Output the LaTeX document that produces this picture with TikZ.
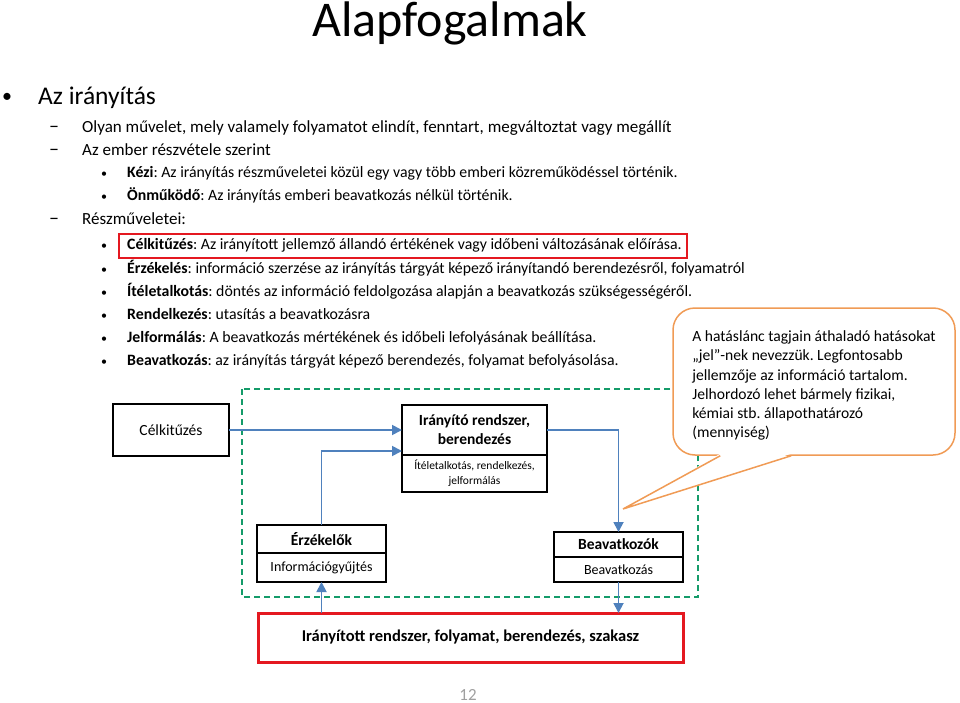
\documentclass[tikz,border=0pt]{standalone}
\usepackage{fontspec}
\setmainfont{Carlito}
\usetikzlibrary{shapes,arrows.meta,positioning}
\definecolor{flowblue}{RGB}{79,129,189}
\definecolor{dashgreen}{RGB}{20,155,105}
\definecolor{noteorange}{RGB}{240,155,85}
\definecolor{markred}{RGB}{228,24,32}
\tikzstyle{box} = [draw,line width=1.2pt,rectangle,inner sep=0,outer sep=0,align=center]
\tikzstyle{flow} = [-{Triangle[length=10pt,width=10pt]},line width=1.8pt,draw=flowblue]
\tikzstyle{lvlone} = [anchor=base west,inner sep=0,font=\fontsize{25.5}{30}\selectfont]
\tikzstyle{lvltwo} = [anchor=base west,inner sep=0,font=\fontsize{17}{20}\selectfont]
\tikzstyle{lvlthree} = [anchor=base west,inner sep=0,font=\fontsize{15.8}{18}\selectfont]
\tikzstyle{dot} = [anchor=base west,inner sep=0,font=\fontsize{12}{14}\selectfont]
\tikzstyle{dashmark} = [anchor=base west,inner sep=0,font=\fontsize{20}{22}\selectfont]
\tikzstyle{note} = [draw=noteorange,line width=1.5pt,fill=white,rectangle,rounded corners=22pt,minimum width=282pt,minimum height=147pt,align=left,font=\fontsize{15.6}{19.2}\selectfont]
\def \tb {2pt}

\begin{document}
\frenchspacing
\begin{tikzpicture}[x=1pt,y=-1pt]
      \useasboundingbox (0,0) rectangle (960,703);
      \node[anchor=base,inner sep=0,font=\fontsize{50}{60}\selectfont] (title) at (450,37) {Alapfogalmak};
      % bullet list
      \node[anchor=base west,inner sep=0,font=\fontsize{20}{24}\selectfont] (b1) at (2,103) {•};
      \node[lvlone] (l1) at (38,105) {Az irányítás};
      \node[dashmark] (d1) at (49,133) {–};
      \node[lvltwo] (l2a) at (82,133) {Olyan művelet, mely valamely folyamatot elindít, fenntart, megváltoztat vagy megállít};
      \node[dashmark] (d2) at (49,156) {–};
      \node[lvltwo] (l2b) at (82,156) {Az ember részvétele szerint};
      \node[dot] (b3a) at (101,178) {•};
      \node[lvlthree] (l3a) at (127,178) {\textbf{Kézi}: Az irányítás részműveletei közül egy vagy több emberi közreműködéssel történik.};
      \node[dot] (b3b) at (101,201) {•};
      \node[lvlthree] (l3b) at (127,201) {\textbf{Önműködő}: Az irányítás emberi beavatkozás nélkül történik.};
      \node[dashmark] (d3) at (49,225) {–};
      \node[lvltwo] (l2c) at (82,225) {Részműveletei:};
      \node[dot] (b3c) at (101,250) {•};
      \node[lvlthree] (l3c) at (127,250) {\textbf{Célkitűzés}: Az irányított jellemző állandó értékének vagy időbeni változásának előírása.};
      \node[dot] (b3d) at (101,273) {•};
      \node[lvlthree] (l3d) at (127,273) {\textbf{Érzékelés}: információ szerzése az irányítás tárgyát képező irányítandó berendezésről, folyamatról};
      \node[dot] (b3e) at (101,296) {•};
      \node[lvlthree] (l3e) at (127,296) {\textbf{Ítéletalkotás}: döntés az információ feldolgozása alapján a beavatkozás szükségességéről.};
      \node[dot] (b3f) at (101,319) {•};
      \node[lvlthree] (l3f) at (127,319) {\textbf{Rendelkezés}: utasítás a beavatkozásra};
      \node[dot] (b3g) at (101,342) {•};
      \node[lvlthree] (l3g) at (127,342) {\textbf{Jelformálás}: A beavatkozás mértékének és időbeli lefolyásának beállítása.};
      \node[dot] (b3h) at (101,365) {•};
      \node[lvlthree] (l3h) at (127,365) {\textbf{Beavatkozás}: az irányítás tárgyát képező berendezés, folyamat befolyásolása.};
      \draw[markred,line width=2.5pt] ([xshift=-8pt,yshift=16pt]l3c.base west) rectangle ([xshift=5pt,yshift=-8pt]l3c.base east);
      % block diagram
      \draw[dashgreen,line width=1.2pt,dash pattern=on 6pt off 4pt] (242,389) rectangle (698,597);
      \node[box,minimum width=116pt,minimum height=52pt,font=\fontsize{15.5}{18}\selectfont] (cel) at (171,430) {Célkitűzés};
      \node[box,minimum width=145pt,minimum height=50pt,font=\bfseries\fontsize{15.5}{19}\selectfont] (ir) at (474.5,430) {Irányító rendszer,\\berendezés};
      \node[box,minimum width=145pt,minimum height=37pt,font=\fontsize{11.5}{15}\selectfont,below=0pt of ir] (irsub) {Ítéletalkotás, rendelkezés,\\jelformálás};
      \node[box,minimum width=129pt,minimum height=28pt,font=\bfseries\fontsize{15.5}{18}\selectfont] (erz) at (321.5,539) {Érzékelők};
      \node[box,minimum width=129pt,minimum height=29pt,font=\fontsize{14}{17}\selectfont,below=0pt of erz] (erzsub) {Információgyűjtés};
      \node[box,minimum width=129pt,minimum height=25pt,font=\bfseries\fontsize{15.5}{18}\selectfont] (beav) at (618.5,544.5) {Beavatkozók};
      \node[box,minimum width=129pt,minimum height=25pt,font=\fontsize{14}{17}\selectfont,below=0pt of beav] (beavsub) {Beavatkozás};
      \node[box,draw=markred,line width=3pt,minimum width=425pt,minimum height=49pt,font=\bfseries\fontsize{16.5}{20}\selectfont] (sys) at (470.5,637.5) {Irányított rendszer, folyamat, berendezés, szakasz};
      \draw[flow] (cel) -- (ir);
      \draw[flow] (erz.north) |- ([yshift=4pt]ir.south west);
      \draw[flow] (ir.east) -| (beav.north);
      \draw[flow] (beavsub.south) -- (beavsub.south |- sys.north);
      \draw[flow] (erzsub.south |- sys.north) -- (erzsub.south);
      % callout
      \node[note] (note) at (814,381.5) {\rule{0pt}{19pt}A hatáslánc tagjain áthaladó hatásokat\\„jel”-nek nevezzük. Legfontosabb\\jellemzője az információ tartalom.\\Jelhordozó lehet bármely fizikai,\\kémiai stb. állapothatározó\\(mennyiség)};
      \coordinate (tip) at (623,509);
      \fill[white] ([xshift=48pt,yshift=\tb]note.south west) -- (tip) -- ([xshift=119pt,yshift=\tb]note.south west) -- cycle;
      \draw[noteorange,line width=1.5pt] ([xshift=48pt]note.south west) -- (tip) -- ([xshift=119pt]note.south west);
      \node[font=\fontsize{17}{20}\selectfont,text=gray!75] (page) at (468,695) {12};
\end{tikzpicture}
\end{document}
